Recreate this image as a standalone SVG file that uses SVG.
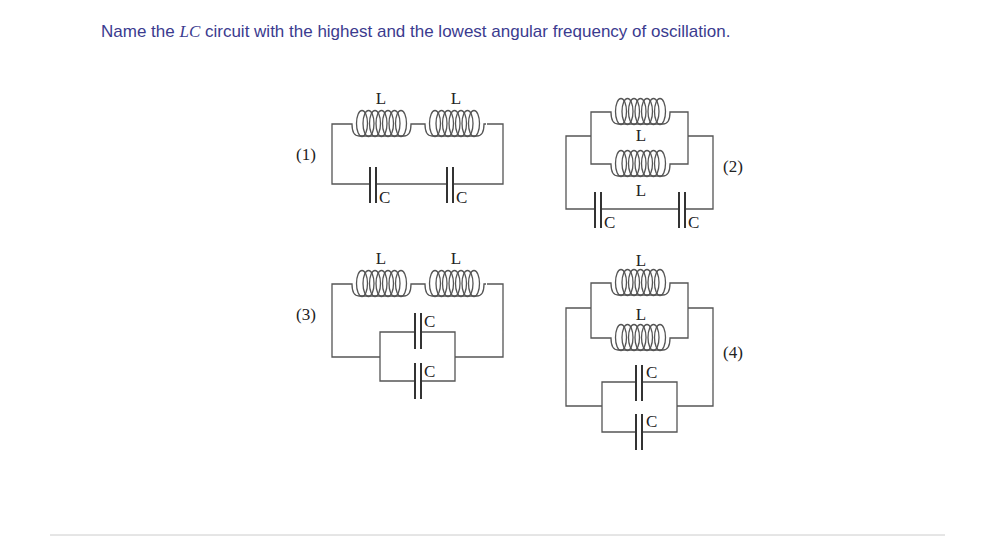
<svg xmlns="http://www.w3.org/2000/svg" xmlns:xlink="http://www.w3.org/1999/xlink" width="990" height="537" viewBox="0 0 990 537">
<style>
.w{fill:none;stroke:#555;stroke-width:1.3}
.p{stroke:#333;stroke-width:2}
.t{font-family:"Liberation Serif",serif;font-size:17px;fill:#222}
</style>
<defs>
<g id="ind" class="w">
<path d="M0,0 H3 Q3,12 10,12 H55 Q62,12 62,0 H64"/>
<ellipse cx="13" cy="-0.5" rx="5.5" ry="13"/>
<ellipse cx="19.5" cy="-0.5" rx="5.5" ry="13"/>
<ellipse cx="26" cy="-0.5" rx="5.5" ry="13"/>
<ellipse cx="32.5" cy="-0.5" rx="5.5" ry="13"/>
<ellipse cx="39" cy="-0.5" rx="5.5" ry="13"/>
<ellipse cx="45.5" cy="-0.5" rx="5.5" ry="13"/>
<ellipse cx="52" cy="-0.5" rx="5.5" ry="13"/>
</g>
<g id="cap">
<rect x="-4" y="-18" width="8" height="36" fill="#fff"/>
<line class="p" x1="-3" y1="-18" x2="-3" y2="18"/>
<line class="p" x1="3" y1="-18" x2="3" y2="18"/>
</g>
</defs>
<rect width="990" height="537" fill="#fff"/>
<text x="101" y="37" font-family="Liberation Sans,sans-serif" font-size="17" fill="#3b3b8f">Name the <tspan font-family="Liberation Serif,serif" font-style="italic">LC</tspan> circuit with the highest and the lowest angular frequency of oscillation.</text>
<line x1="50" y1="535" x2="945" y2="535" stroke="#ccc" stroke-width="1"/>

<g id="connectors">
<path class="w" d="M349,124 H332 V184 H503 V124 H487 M413,124 H422"/>
<path class="w" d="M608,112 H591 V164 H608 M672,112 H688 V164 H672 M591,136 H566 V209 H713 V136 H688"/>
<path class="w" d="M349,284 H332 V357 H380 M455,357 H503 V284 H487 M413,284 H422 M380,332 V381 H455 V332 Z"/>
<path class="w" d="M608,283 H591 V338 H608 M672,283 H688 V338 H672 M591,308 H566 V406 H602 M677,406 H713 V308 H688 M602,382 V432 H677 V382 Z"/>
</g>

<g id="circuit1">
<use xlink:href="#ind" x="349" y="124"/>
<use xlink:href="#ind" x="422" y="124"/>
<use xlink:href="#cap" x="373" y="185"/>
<use xlink:href="#cap" x="450" y="185"/>
<text class="t" x="381" y="104" text-anchor="middle">L</text>
<text class="t" x="456" y="104" text-anchor="middle">L</text>
<text class="t" x="379" y="203">C</text>
<text class="t" x="456" y="203">C</text>
<text class="t" x="296" y="160">(1)</text>
</g>
<g id="circuit2">
<use xlink:href="#ind" x="608" y="112"/>
<use xlink:href="#ind" x="608" y="164"/>
<use xlink:href="#cap" x="598" y="210"/>
<use xlink:href="#cap" x="682" y="210"/>
<text class="t" x="641" y="141" text-anchor="middle">L</text>
<text class="t" x="641" y="196" text-anchor="middle">L</text>
<text class="t" x="604" y="228">C</text>
<text class="t" x="688" y="228">C</text>
<text class="t" x="723" y="172">(2)</text>
</g>
<g id="circuit3">
<use xlink:href="#ind" x="349" y="284"/>
<use xlink:href="#ind" x="422" y="284"/>
<use xlink:href="#cap" x="418" y="331"/>
<use xlink:href="#cap" x="418" y="381"/>
<text class="t" x="381" y="264" text-anchor="middle">L</text>
<text class="t" x="456" y="264" text-anchor="middle">L</text>
<text class="t" x="424" y="327">C</text>
<text class="t" x="424" y="377">C</text>
<text class="t" x="296" y="320">(3)</text>
</g>
<g id="circuit4">
<use xlink:href="#ind" x="608" y="283"/>
<use xlink:href="#ind" x="608" y="338"/>
<use xlink:href="#cap" x="639" y="383"/>
<use xlink:href="#cap" x="639" y="432"/>
<text class="t" x="641" y="266" text-anchor="middle">L</text>
<text class="t" x="641" y="320" text-anchor="middle">L</text>
<text class="t" x="646" y="378">C</text>
<text class="t" x="646" y="427">C</text>
<text class="t" x="723" y="358">(4)</text>
</g>
</svg>
